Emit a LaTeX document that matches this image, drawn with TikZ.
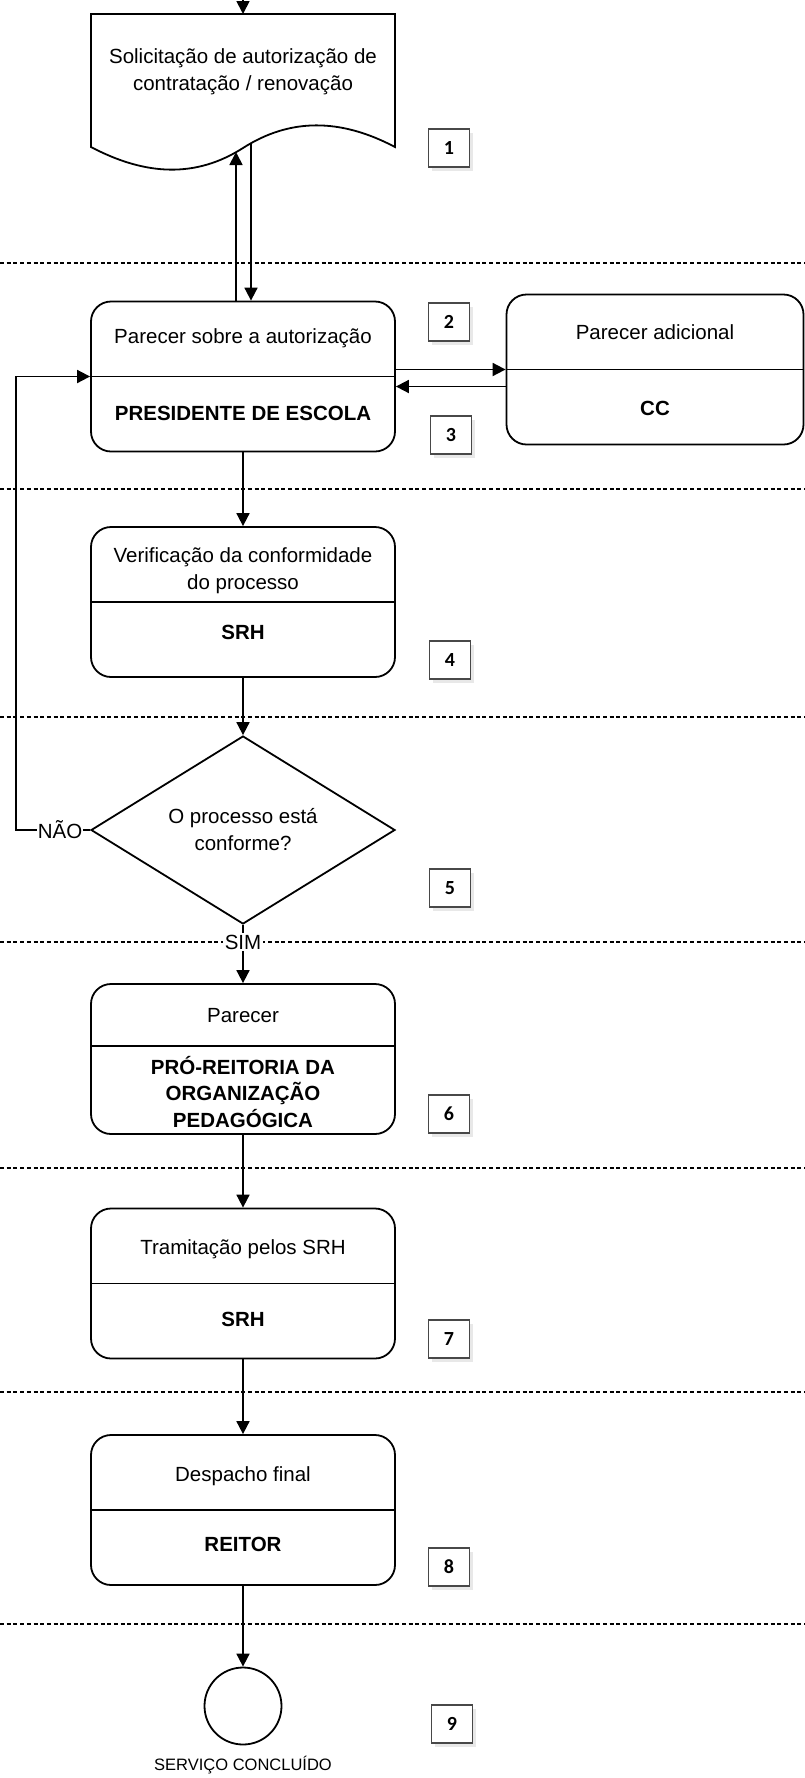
\documentclass[tikz,border=0pt]{standalone}
\usepackage{fontspec}
\setmainfont{Liberation Sans}
\newfontfamily\badgefont{Carlito}
\usetikzlibrary{arrows.meta,shapes.geometric,shadows}
\definecolor{badgeline}{HTML}{484848}

\tikzset{
  plain/.style={line width=1.8pt},
  flow/.style={line width=1.8pt,-{Triangle[length=13pt,width=13pt]}},
  lane/.style={line width=1.1pt,dash pattern=on 4pt off 2.7pt},
  procbox/.style={draw,plain,rounded corners=20pt,minimum width=304pt,minimum height=150pt},
  txt/.style={font=\fontsize{20.5}{27}\selectfont,align=center,inner sep=0pt},
  role/.style={txt,font=\fontsize{20.5}{26.5}\selectfont\bfseries},
  badge/.style={draw=badgeline,line width=1.7pt,fill=white,minimum width=41pt,minimum height=38pt,
    font=\badgefont\fontsize{20}{20}\selectfont\bfseries,
    drop shadow={shadow xshift=3.5pt,shadow yshift=-3.5pt,fill=black!9,opacity=1}},
}

\begin{document}
\begin{tikzpicture}[x=1pt,y=-1pt]
\useasboundingbox (0,0) rectangle (805,1778);
% lanes
\foreach \y in {263,489,717,942,1168,1392,1624}
  \draw[lane] (0,\y) -- (805,\y);

% 1 - documento
\draw[plain,fill=white] (91,14) -- (395,14) -- (395,147)
  .. controls (340,118) and (290,118) .. (243,148)
  .. controls (196,178) and (146,176) .. (91,147) -- cycle;
\node[txt] (doc) at (243,72) {Solicitação de autorização de\\contratação / renovação};
\coordinate (entrada) at (243,0);
\coordinate (doctop) at (243,14);
\coordinate (docin) at (236,152);
\coordinate (docout) at (251,144);

% 2/3 - presidente e CC
\node[procbox] (p2) at (243,376.5) {};
\draw[plain] (p2.west) -- (p2.east);
\node[txt] (p2a) at (243,338) {Parecer sobre a autorização};
\node[role] (p2b) at (243,413) {PRESIDENTE DE ESCOLA};
\node[procbox,minimum width=297pt] (cc) at (655,369.5) {};
\draw[plain] (cc.west) -- (cc.east);
\node[txt] (cca) at (655,332) {Parecer adicional};
\node[role] (ccb) at (655,408) {CC};

% 4 - SRH
\node[procbox] (p4) at (243,602) {};
\draw[plain] (p4.west) -- (p4.east);
\node[txt] (p4a) at (243,571) {Verificação da conformidade\\do processo};
\node[role] (p4b) at (243,632) {SRH};

% 5 - decisao
\node[draw,diamond,plain,txt,aspect=1.6,minimum width=304pt,minimum height=188pt] (dec) at (243,830) {O processo está\\conforme?};
\node[txt,fill=white,inner sep=1pt] (nao) at (60,830) {NÃO};

% 6 - pro-reitoria
\node[procbox] (p6) at (243,1059) {};
\draw[plain] (p6.west |- 0,1046) -- (p6.east |- 0,1046);
\node[txt] (p6a) at (243,1016) {Parecer};
\node[role] (p6b) at (243,1092) {PRÓ-REITORIA DA\\ORGANIZAÇÃO\\PEDAGÓGICA};

% 7 - tramitacao
\node[procbox] (p7) at (243,1283.5) {};
\draw[plain] (p7.west) -- (p7.east);
\node[txt] (p7a) at (243,1249) {Tramitação pelos SRH};
\node[role] (p7b) at (243,1319) {SRH};

% 8 - reitor
\node[procbox] (p8) at (243,1510) {};
\draw[plain] (p8.west) -- (p8.east);
\node[txt] (p8a) at (243,1476) {Despacho final};
\node[role] (p8b) at (243,1544) {REITOR};

% 9 - fim
\node[draw,circle,plain,minimum size=77pt] (fim) at (243,1706) {};
\node[font=\fontsize{16.5}{16.5}\selectfont] (fimtxt) at (243,1765) {SERVIÇO CONCLUÍDO};

% connectors
\draw[flow] (entrada) -- (doctop);
\draw[flow] ([xshift=-7pt]p2.north) -- (docin);
\draw[flow] (docout) -- ([xshift=8pt]p2.north);
\draw[flow] (p2.east |- cc.west) -- (cc.west);
\draw[flow] ([yshift=-17pt]cc.west) -- ([yshift=-17pt]cc.west -| p2.east);
\draw[flow] (p2.south) -- (p4.north);
\draw[flow] (p4.south) -- (dec.north);
\draw[plain] (dec.west) -- (nao);
\draw[flow] (nao.west) -- (16,830) |- (p2.west);
\node[txt,fill=white,inner sep=1.5pt] (sim) at (243,942) {SIM};
\draw[plain] (dec.south) -- (sim);
\draw[flow] (sim) -- (p6.north);
\draw[flow] (p6.south) -- (p7.north);
\draw[flow] (p7.south) -- (p8.north);
\draw[flow] (p8.south) -- (fim.north);

% badges
\node[badge] (b1) at (449,148) {1};
\node[badge] (b2) at (449,322) {2};
\node[badge] (b3) at (451,435) {3};
\node[badge] (b4) at (450,660) {4};
\node[badge] (b5) at (450,888) {5};
\node[badge] (b6) at (449,1114) {6};
\node[badge] (b7) at (449,1339) {7};
\node[badge] (b8) at (449,1567) {8};
\node[badge] (b9) at (452,1724) {9};
\end{tikzpicture}
\end{document}
